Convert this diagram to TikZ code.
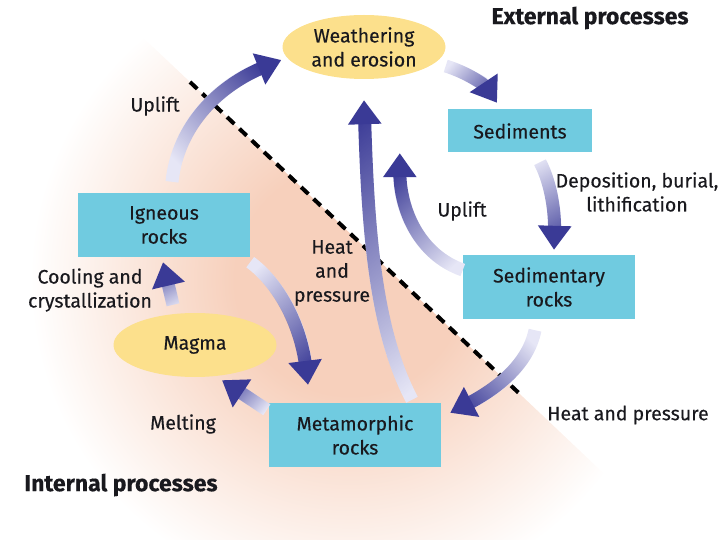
\documentclass[tikz,border=0pt]{standalone}
\usepackage{fontspec}
\setmainfont{Fira Sans}[FakeBold=0.35]
\usepackage{xcolor}
\usepackage{tikz}
\usetikzlibrary{shapes,arrows,positioning,calc,fadings,arrows.meta}

\definecolor{rockcyan}{RGB}{112,203,224}
\definecolor{blobyellow}{RGB}{252,224,140}
\definecolor{flowdark}{RGB}{58,58,150}
\definecolor{flowlight}{RGB}{230,230,246}
\definecolor{peach}{RGB}{247,208,188}
\definecolor{ink}{RGB}{25,25,30}

\newcommand{\rockfont}{\fontsize{19.5}{24}\selectfont}
\newcommand{\titlefont}{\bfseries\fontsize{23}{26}\selectfont}

\tikzfading[name=flowfade, left color=transparent!100, middle color=transparent!40, right color=transparent!0]
\pgfdeclareradialshading{peachglow}{\pgfpoint{0bp}{0bp}}{color(0bp)=(peach); color(9bp)=(peach); color(25bp)=(white); color(50bp)=(white)}

\begin{document}
\begin{tikzpicture}[x=1pt, y=-1pt,
    rockbox/.style={rectangle, fill=rockcyan, minimum width=172pt, minimum height=64pt, align=center, text=ink, font=\rockfont},
    blob/.style={ellipse, fill=blobyellow, minimum width=163pt, minimum height=64pt, inner sep=0pt, align=center, text=ink, font=\rockfont},
    lbl/.style={align=center, text=ink, font=\rockfont},
    heading/.style={text=ink, font=\titlefont},
    flow/.style={line width=13pt, draw=flowlight, -{Triangle[width=32pt,length=24pt,color=flowdark]},
        postaction={draw=flowdark, arrows=-, shorten >=18pt, path fading=flowfade, fading angle=#1}}]
    \useasboundingbox (0,0) rectangle (720,540);
    % warm zone below the boundary
    \begin{scope}
        \clip (23.5,-75.5) -- (789.4,649) -- (-50,649) -- (-50,-75.5) -- cycle;
        \shade[shading=peachglow] (350,280) circle (320pt);
    \end{scope}
    \draw[line width=4pt, dash pattern=on 10pt off 7pt] (190,82) -- (523,397);

    \node[blob] (weath) at (364,47) {Weathering\\and erosion};
    \node[blob] (magma) at (195,345) {Magma};
    \node[rockbox, minimum width=144pt, minimum height=43pt] (sed) at (520,131) {Sediments};
    \node[rockbox] (sedrock) at (549,287) {Sedimentary\\rocks};
    \node[rockbox] (ign) at (164,225) {Igneous\\rocks};
    \node[rockbox] (meta) at (355,435) {Metamorphic\\rocks};

    \node[heading] (ext) at (590,18) {External processes};
    \node[heading] (int) at (121,485) {Internal processes};
    \node[lbl] (uplifttop) at (155,106) {Uplift};
    \node[lbl] (upliftmid) at (462,211) {Uplift};
    \node[lbl] (depo) at (637,192) {Deposition, burial,\\lithification};
    \node[lbl] (heatmid) at (332,273) {Heat\\and\\pressure};
    \node[lbl] (cool) at (90,290) {Cooling and\\crystallization};
    \node[lbl] (melt) at (183,424) {Melting};
    \node[lbl] (heatright) at (628,415) {Heat and pressure};

    % the cycle
    \draw[flow=48] ($(ign.north)+(8,-11)$) .. controls +(6,-57) and +(-62,25) .. ($(weath.west)+(-1,13)$);
    \draw[flow=-35] ($(weath.east)+(0,19)$) .. controls +(20,6) and +(-12,-18) .. ($(sed.north)+(-23,-6.5)$);
    \draw[flow=-81] ($(sed.south)+(20,9.5)$) .. controls +(12,23) and +(1,-35) .. ($(sedrock.north)+(5,-5)$);
    \draw[flow=224] ($(sedrock.south)+(-14,11)$) .. controls +(-7,35) and +(45,-23) .. ($(meta.north east)+(9,10)$);
    \draw[flow=118] ($(sedrock.west)+(0,-17)$) .. controls +(-43,-15) and +(0,57) .. ($(sed.south west)+(-48,0.5)$);
    \draw[flow=99] ($(meta.north)+(57,-3)$) .. controls +(-37,-70) and +(4,130) .. ($(weath.south)+(0,21)$);
    \draw[flow=-65] ($(ign.south east)+(0,5)$) .. controls +(25,18) and +(-8,-65) .. ($(meta.north)+(-47,-18)$);
    \draw[flow=103] ($(magma.north)+(-22,-8)$) -- ($(ign.south)+(-1,5)$);
    \draw[flow=146] ($(meta.north west)+(-2,7)$) -- ($(magma.south)+(27,3)$);
\end{tikzpicture}
\end{document}
